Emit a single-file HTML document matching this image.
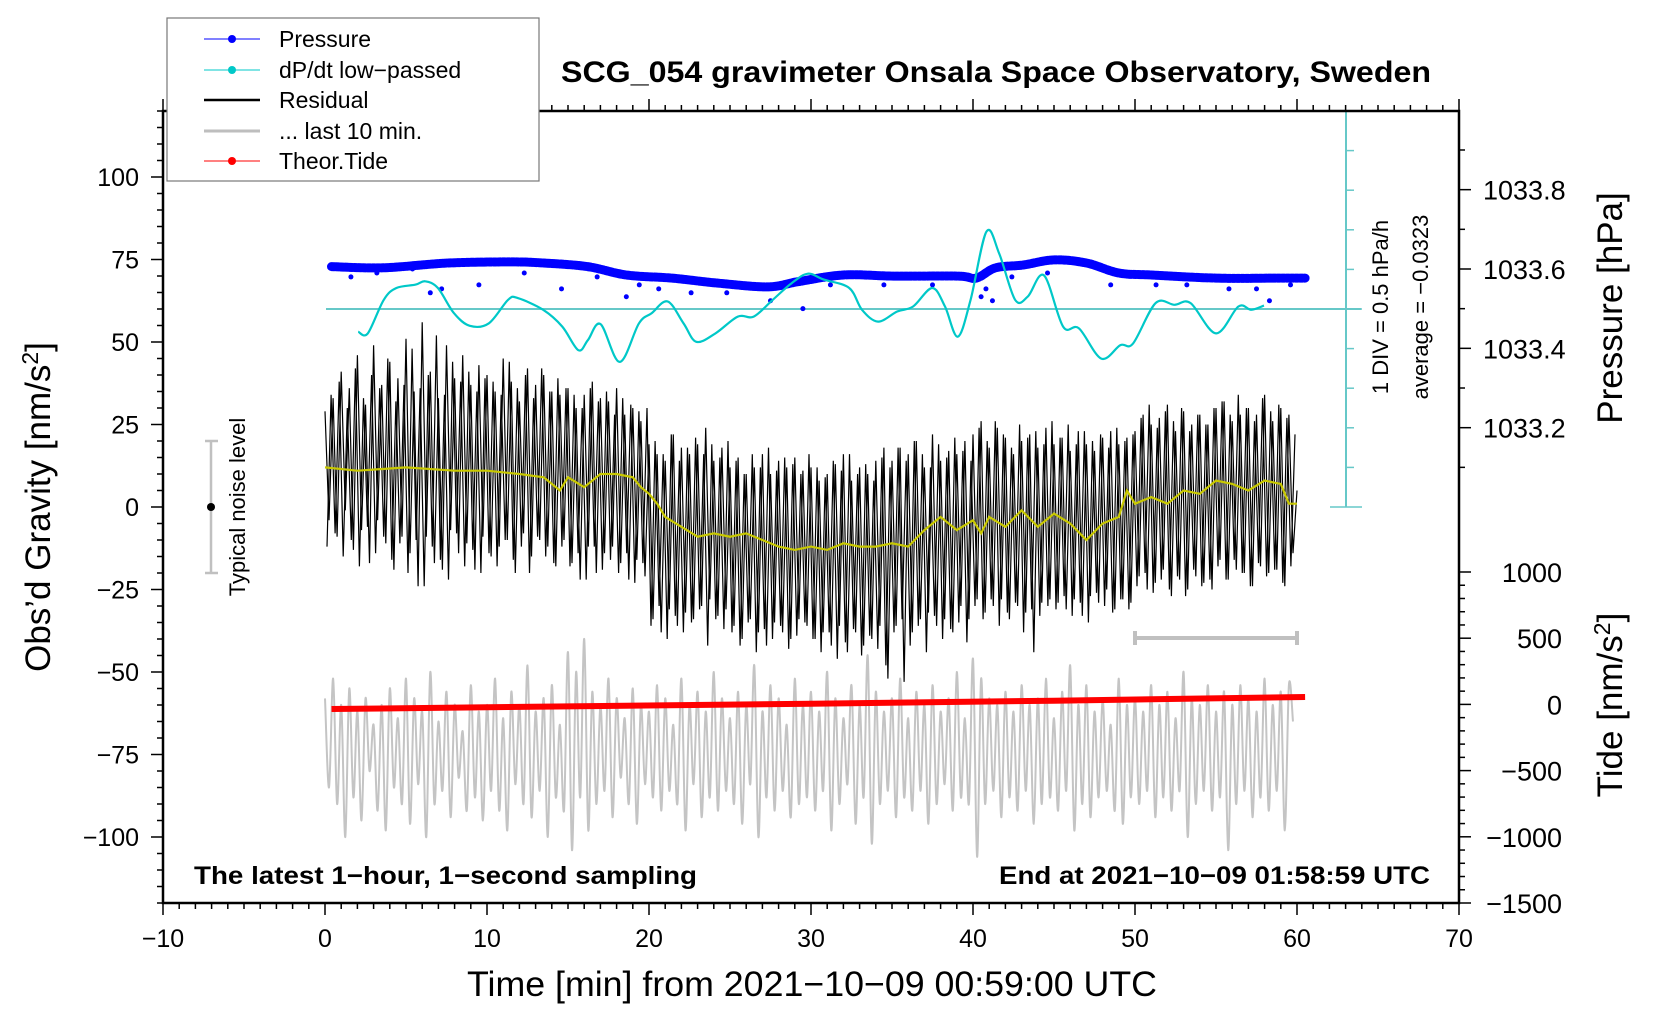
<!DOCTYPE html>
<html><head><meta charset="utf-8"><style>
html,body{margin:0;padding:0;background:#fff;}
svg{display:block;font-family:"Liberation Sans",sans-serif;}
</style></head><body>
<svg id="chart" width="1660" height="1020" viewBox="0 0 1660 1020" xmlns="http://www.w3.org/2000/svg">
<g id="bg"></g>
<g id="marks"></g>
<g id="axes"></g>
<text x="996" y="82" text-anchor="middle" font-weight="bold" font-size="30" textLength="870" lengthAdjust="spacingAndGlyphs">SCG_054 gravimeter Onsala Space Observatory, Sweden</text>
<text transform="translate(50,507) rotate(-90)" text-anchor="middle" font-size="35">Obs’d Gravity [nm/s<tspan dy="-12" font-size="23">2</tspan><tspan dy="12">]</tspan></text>
<text transform="translate(1622,308) rotate(-90)" text-anchor="middle" font-size="35">Pressure [hPa]</text>
<text transform="translate(1622,705) rotate(-90)" text-anchor="middle" font-size="35">Tide [nm/s<tspan dy="-12" font-size="23">2</tspan><tspan dy="12">]</tspan></text>
<text x="812" y="996" text-anchor="middle" font-size="35" textLength="690" lengthAdjust="spacingAndGlyphs">Time [min] from 2021−10−09 00:59:00 UTC</text>
<text x="194" y="884" font-weight="bold" font-size="25" textLength="503" lengthAdjust="spacingAndGlyphs">The latest 1−hour, 1−second sampling</text>
<text x="1430" y="884" text-anchor="end" font-weight="bold" font-size="25" textLength="431" lengthAdjust="spacingAndGlyphs">End at 2021−10−09 01:58:59 UTC</text>
<text transform="translate(1388,307) rotate(-90)" text-anchor="middle" font-size="22">1 DIV = 0.5 hPa/h</text>
<text transform="translate(1428,307) rotate(-90)" text-anchor="middle" font-size="22">average = −0.0323</text>
<text transform="translate(245,507) rotate(-90)" text-anchor="middle" font-size="22">Typical noise level</text>
<g>
<rect x="167" y="18" width="372" height="163" fill="#fff" stroke="#777" stroke-width="1.2"/>
<g><line x1="204" y1="39" x2="260" y2="39" stroke="#00f" stroke-width="1"/><circle cx="232" cy="39" r="4" fill="#00f"/><text x="279" y="47" font-size="23">Pressure</text></g>
<g><line x1="204" y1="70" x2="260" y2="70" stroke="#00c8c8" stroke-width="1"/><circle cx="232" cy="70" r="4" fill="#00c8c8"/><text x="279" y="78" font-size="23">dP/dt low−passed</text></g>
<g><line x1="204" y1="100" x2="260" y2="100" stroke="#000" stroke-width="2.5"/><text x="279" y="108" font-size="23">Residual</text></g>
<g><line x1="204" y1="131" x2="260" y2="131" stroke="#bebebe" stroke-width="3"/><text x="279" y="139" font-size="23">... last 10 min.</text></g>
<g><line x1="204" y1="161" x2="260" y2="161" stroke="#f00" stroke-width="1"/><circle cx="232" cy="161" r="4" fill="#f00"/><text x="279" y="169" font-size="23">Theor.Tide</text></g>
</g>
</svg>
<script>
// ---- data ----
const xTicks = [-10,0,10,20,30,40,50,60,70];
const gravTicks = [100,75,50,25,0,-25,-50,-75,-100];
const presTicks = [1033.2,1033.4,1033.6,1033.8];
const tideTicks = [1000,500,0,-500,-1000,-1500];
const presTime = [0.4,3.6,7.6,11.5,13.5,16.2,18.6,21.4,24.1,27.3,29.2,32,35.1,39.1,40.2,41.4,43.1,45,47,49,51,55,58.8,60.5];
const presVal = [1033.606,1033.603,1033.615,1033.618,1033.615,1033.606,1033.585,1033.577,1033.565,1033.555,1033.568,1033.585,1033.582,1033.582,1033.577,1033.603,1033.610,1033.623,1033.615,1033.590,1033.585,1033.577,1033.577,1033.577];
const outT = [1.6,3.2,5.4,6.5,7.2,9.5,12.3,14.6,16.8,18.6,19.4,20.6,22.6,24.8,27.5,29.5,31.2,34.5,37.5,40.5,40.8,41.2,42.4,44.6,48.5,51.3,53.2,55.8,57.5,58.3,59.6];
const outV = [1033.58,1033.59,1033.60,1033.54,1033.55,1033.56,1033.59,1033.55,1033.58,1033.53,1033.56,1033.55,1033.54,1033.54,1033.52,1033.50,1033.56,1033.56,1033.56,1033.53,1033.55,1033.52,1033.58,1033.59,1033.56,1033.56,1033.56,1033.55,1033.55,1033.52,1033.56];
const dpTime = [2.05,2.64,3.63,4.41,5.60,6.19,6.97,7.96,8.94,10.12,11.30,11.90,13.47,14.65,15.64,16.23,17.01,18.19,19.38,20.16,21.15,22.13,22.92,24.10,25.48,26.46,27.64,28.82,29.81,30.79,32.36,33.15,34.14,35.32,36.30,37.48,38.27,39.06,39.85,40.83,41.62,42.60,43.39,44.38,45.56,46.54,47.92,49.10,49.88,51.27,52.44,53.43,55.00,56.38,57.17,57.96];
const dpVal = [-0.27,-0.29,0.11,0.25,0.29,0.33,0.25,-0.05,-0.20,-0.17,0.11,0.13,-0.01,-0.21,-0.49,-0.37,-0.18,-0.63,-0.17,-0.05,0.09,-0.17,-0.39,-0.29,-0.09,-0.09,0.11,0.31,0.42,0.35,0.25,-0.01,-0.15,-0.03,0.03,0.25,0.03,-0.33,0.11,0.92,0.66,0.11,0.15,0.40,-0.21,-0.23,-0.59,-0.43,-0.41,0.07,0.05,0.07,-0.29,0.03,-0.01,0.04];
const smoothT = [0,2,5,8,10,12,13.5,14.5,15,16,17,18,19,19.5,20,20.5,21,22,23,24,25,26,27,28,29,30,31,32,33,34,35,36,37,38,39,40,40.5,41,42,43,44,45,46,47,48,49,49.5,50,51,52,53,54,55,56,57,58,59,59.5,60];
const smoothV = [12,11,12,11,11,10,9,5,9,6,10,10,9,6,4,1,-3,-6,-9,-8,-9,-8,-10,-12,-13,-12,-13,-11,-12,-12,-11,-12,-7,-3,-7,-4,-8,-3,-6,-1,-6,-2,-5,-10,-5,-3,5,1,3,1,5,4,8,7,5,8,7,1,1];
const residStep = 0.25;
const residual = [29,-4,33,-9,41,-1,36,-13,46,-7,31,-17,49,-4,37,-11,44,-19,39,-9,
51,-14,35,-24,56,-9,41,-17,33,-19,49,-7,39,-14,46,-11,37,-19,43,-9,
40,-15,35,-12,45,-10,38,-20,32,-8,42,-15,37,-10,40,-12,35,-18,34,-10,
36,-17,30,-22,34,-12,38,-20,33,-14,32,-12,36,-17,28,-22,30,-16,26,-21,
19,-34,16,-38,14,-31,22,-36,18,-32,16,-34,19,-30,24,-28,14,-33,18,-31,
12,-36,15,-40,10,-34,12,-38,16,-42,10,-35,14,-38,12,-40,15,-34,11,-36,
12,-40,8,-38,10,-42,13,-36,16,-44,8,-38,12,-42,10,-40,14,-36,18,-52,
14,-36,18,-53,16,-38,20,-34,12,-32,22,-36,14,-34,17,-38,16,-30,20,-34,
22,-28,26,-32,18,-30,24,-28,21,-34,16,-30,20,-32,22,-44,18,-29,24,-28,
19,-29,21,-31,17,-28,23,-33,19,-27,17,-29,21,-25,23,-31,19,-28,21,-29,
23,-21,28,-25,25,-23,27,-19,31,-27,23,-22,29,-25,25,-21,28,-23,25,-25,
30,-16,32,-22,26,-19,28,-20,30,-24,28,-18,34,-20,26,-19,30,-24,28,-14,5];
// samples in between (offset by half a step)
const residualMid = [-12,34,-8,38,-15,30,-10,42,-18,33,-6,40,-14,36,-9,45,-16,32,-11,37,
-20,48,-10,36,-24,40,-12,52,-16,34,-22,44,-8,38,-18,41,-13,35,-20,39,
-14,38,-18,34,-10,44,-16,36,-12,40,-20,33,-9,42,-15,35,-17,39,-12,36,
-18,34,-14,30,-22,36,-12,32,-19,35,-16,28,-20,33,-14,31,-23,29,-17,30,
-36,20,-30,16,-40,22,-33,14,-38,18,-35,21,-31,16,-42,19,-34,15,-37,20,
-38,14,-42,10,-35,16,-44,12,-37,18,-40,11,-36,15,-43,13,-39,10,-35,16,
-40,12,-44,9,-38,14,-46,11,-41,16,-37,10,-45,13,-39,8,-43,15,-48,12,
-38,18,-34,14,-42,20,-36,16,-44,12,-33,19,-40,15,-37,21,-35,17,-41,14,
-30,24,-34,20,-28,26,-36,22,-32,18,-29,25,-38,21,-31,23,-33,19,-30,26,
-31,21,-27,25,-33,19,-29,23,-35,20,-26,22,-30,18,-32,24,-28,20,-31,22,
-24,27,-20,31,-26,24,-22,29,-25,26,-21,30,-27,23,-19,28,-24,25,-22,30,
-18,32,-22,28,-16,34,-20,30,-24,26,-17,33,-21,29,-19,31,-23,27,-18,22];
const last10 = [-58,-85,-52,-90,-60,-100,-55,-88,-62,-95,-58,-80,-66,-92,-60,-98,-55,-85,-64,-90,
-52,-96,-58,-84,-62,-100,-50,-90,-65,-86,-56,-94,-60,-82,-68,-92,-54,-88,-62,-95,
-60,-86,-52,-92,-64,-98,-56,-84,-60,-90,-48,-94,-62,-86,-58,-100,-54,-88,-66,-92,
-44,-104,-50,-88,-40,-98,-56,-90,-60,-86,-52,-94,-58,-82,-64,-90,-55,-96,-60,-84,
-62,-88,-54,-92,-58,-86,-66,-90,-52,-98,-60,-84,-56,-94,-62,-88,-50,-92,-58,-86,
-64,-90,-56,-96,-60,-84,-48,-100,-62,-88,-54,-92,-58,-86,-66,-94,-52,-90,-60,-88,
-56,-92,-62,-86,-50,-98,-58,-90,-64,-84,-54,-96,-60,-88,-45,-102,-56,-90,-62,-86,
-58,-94,-52,-88,-64,-92,-56,-86,-60,-96,-54,-90,-62,-84,-58,-92,-50,-88,-64,-90,
-46,-106,-52,-90,-58,-86,-60,-94,-56,-88,-62,-92,-54,-86,-60,-96,-58,-90,-52,-88,
-64,-92,-56,-86,-48,-98,-60,-90,-54,-94,-62,-88,-58,-86,-66,-92,-52,-96,-60,-88,
-58,-90,-62,-86,-54,-94,-60,-88,-56,-92,-64,-86,-50,-100,-58,-90,-60,-86,-54,-92,
-62,-88,-56,-104,-60,-90,-54,-86,-58,-94,-62,-88,-52,-92,-60,-86,-56,-98,-54,-65];
const tideT = [0.4,15,30,45,60.5];
const tideV = [-35,-15,5,28,56];

// ---- axes functions ----
const X0=163, X1=1459, Y0=111, Y1=903;
function xS(t){return X0+(t+10)/80*(X1-X0);}
function gY(v){return 507-v*3.3;}
function pY(p){return 269-(p-1033.6)*396.7;}
function tY(v){return 704.4-v*0.1324;}
function dY(v){return 309-v*84;}

const NS='http://www.w3.org/2000/svg';
function mk(parent,tag,attrs){const e=document.createElementNS(NS,tag);for(const k in attrs)e.setAttribute(k,attrs[k]);document.getElementById(parent).appendChild(e);return e;}
function smoothPath(pts){let d='M'+pts[0][0].toFixed(1)+','+pts[0][1].toFixed(1);
 for(let i=0;i<pts.length-1;i++){const p0=pts[Math.max(0,i-1)],p1=pts[i],p2=pts[i+1],p3=pts[Math.min(pts.length-1,i+2)];
 const c1=[p1[0]+(p2[0]-p0[0])/6,p1[1]+(p2[1]-p0[1])/6],c2=[p2[0]-(p3[0]-p1[0])/6,p2[1]-(p3[1]-p1[1])/6];
 d+=' C'+c1[0].toFixed(1)+','+c1[1].toFixed(1)+' '+c2[0].toFixed(1)+','+c2[1].toFixed(1)+' '+p2[0].toFixed(1)+','+p2[1].toFixed(1);}return d;}
function poly(pts){return pts.map(p=>p[0].toFixed(1)+','+p[1].toFixed(1)).join(' ');}

let e;
e=mk('bg','line',{x1:326,y1:309,x2:1361,y2:309,stroke:'#66c8c8','stroke-width':2});


e=mk('bg','line',{x1:1346,y1:Y0,x2:1346,y2:507,stroke:'#66c8c8','stroke-width':2});


for(let i=0;i<=10;i++){const y=Y0+i*39.6;const maj=(i===0||i===5||i===10);
 e=mk('bg','line',{x1:maj?1330:1346,y1:y,x2:maj?1362:1354,y2:y,stroke:'#66c8c8','stroke-width':1.5});
 
 }

e=mk('bg','path',{d:`M${xS(50)},631 V645 M${xS(50)},638 H${xS(60)} M${xS(60)},631 V645`,stroke:'#c0c0c0','stroke-width':4,fill:'none'});


e=mk('bg','path',{d:`M205,${gY(20)} H218 M211,${gY(20)} V${gY(-20)} M205,${gY(-20)} H218`,stroke:'#c0c0c0','stroke-width':2.5,fill:'none'});


e=mk('bg','circle',{cx:211,cy:gY(0),r:4,fill:'#000'});



let pts=last10.map((v,i)=>[xS(i*residStep),gY(v)]);
e=mk('marks','path',{d:smoothPath(pts),fill:'none',stroke:'#c4c4c4','stroke-width':2});


pts=tideT.map((t,i)=>[xS(t),tY(tideV[i])]);
e=mk('marks','polyline',{points:poly(pts),fill:'none',stroke:'#f00','stroke-width':6});


pts=residual.map((v,i)=>[xS(i*residStep),gY(v)]);
e=mk('marks','polyline',{points:poly(pts),fill:'none',stroke:'#000','stroke-width':1.2});


pts=residualMid.map((v,i)=>[xS(i*residStep+residStep/2),gY(v)]);
e=mk('marks','polyline',{points:poly(pts),fill:'none',stroke:'#000','stroke-width':1.2});


pts=smoothT.map((t,i)=>[xS(t),gY(smoothV[i])]);
e=mk('marks','polyline',{points:poly(pts),fill:'none',stroke:'#c8c800','stroke-width':2.2});


pts=presTime.map((t,i)=>[xS(t),pY(presVal[i])]);
e=mk('marks','path',{d:smoothPath(pts),fill:'none',stroke:'#0000ff','stroke-width':9,'stroke-linecap':'round','stroke-linejoin':'round','stroke-dasharray':'3 1.5'});


outT.forEach((t,i)=>{const c=mk('marks','circle',{cx:xS(t),cy:pY(outV[i]),r:2.5,fill:'#00f'});
 
 });
pts=dpTime.map((t,i)=>[xS(t),dY(dpVal[i])]);
e=mk('marks','path',{d:smoothPath(pts),fill:'none',stroke:'#00c8c8','stroke-width':2.2});



e=mk('axes','rect',{x:X0,y:Y0,width:X1-X0,height:Y1-Y0,fill:'none',stroke:'#000','stroke-width':2.5});


for(let t=-10;t<=70;t++){const maj=t%10===0;const x=xS(t);
 e=mk('axes','line',{x1:x,y1:Y1,x2:x,y2:Y1+(maj?12:6),stroke:'#000','stroke-width':1.5});
 
 
 e=mk('axes','line',{x1:x,y1:Y0,x2:x,y2:Y0-(maj?12:6),stroke:'#000','stroke-width':1.5});
 
 }
xTicks.forEach(t=>{e=mk('axes','text',{x:xS(t),y:947,'text-anchor':'middle','font-size':25});
 e.textContent=(t<0?'−':'')+Math.abs(t);
 
 });
for(let v=-120;v<=120;v+=5){const maj=v%25===0;const y=gY(v);
 e=mk('axes','line',{x1:X0,y1:y,x2:X0-(maj?12:6),y2:y,stroke:'#000','stroke-width':1.5});
 
 }
gravTicks.forEach(v=>{e=mk('axes','text',{x:139,y:gY(v)+9,'text-anchor':'end','font-size':25});
 e.textContent=(v<0?'−':'')+Math.abs(v);
 
 });
for(let k=0;k<=8;k++){const p=1033.1+k*0.1;const y=pY(p);if(y<Y0+5)continue;const maj=k%2===1;
 e=mk('axes','line',{x1:X1,y1:y,x2:X1+(maj?12:6),y2:y,stroke:'#000','stroke-width':1.5});
 
 }
presTicks.forEach(p=>{e=mk('axes','text',{x:1483,y:pY(p)+10,'font-size':27});
 e.textContent=p.toFixed(1);
 
 });
for(let v=-1500;v<=1000;v+=100){const maj=v%500===0;const y=tY(v);
 e=mk('axes','line',{x1:X1,y1:y,x2:X1+(maj?12:6),y2:y,stroke:'#000','stroke-width':1.5});
 
 }
tideTicks.forEach(v=>{e=mk('axes','text',{x:1562,y:tY(v)+10,'text-anchor':'end','font-size':27});
 e.textContent=(v<0?'−':'')+Math.abs(v);
 
 });
</script>
</body></html>
